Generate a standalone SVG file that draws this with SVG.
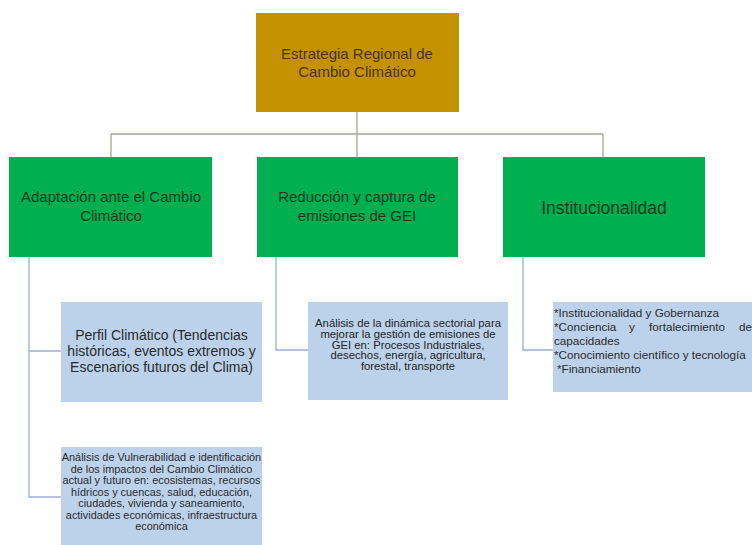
<svg xmlns="http://www.w3.org/2000/svg" width="752" height="545" viewBox="0 0 752 545">
<style>
text{font-family:"Liberation Sans",Arial,sans-serif}
.top{fill:#C49200}
.grn{fill:#00B050}
.blu{fill:#BCD2EA}
.tt{fill:#4a3300;font-size:15px;text-anchor:middle}
.gt{fill:#0d3b1c;font-size:15px;text-anchor:middle}
.bt{fill:#2a2a2a;text-anchor:middle}
.lt{fill:#2a2a2a;font-size:11.7px}
.c1{stroke:#A3A893;stroke-width:1.3;fill:none}
.c2{stroke:#9AAFCB;stroke-width:1.3;fill:none}
</style>
<rect width="752" height="545" fill="#ffffff"/>
<g id="connectors">
<path class="c1" d="M357 112V157M111 134H603M111 134V157M603 134V157"/>
<path class="c2" d="M29 257V497H61M29 351H61"/>
<path class="c2" d="M276 257V350H308"/>
<path class="c2" d="M523 257V350H553"/>
</g>
<g id="root">
<rect class="top" x="256" y="13" width="203" height="99"/>
<text class="tt" x="357" y="59">Estrategia Regional de</text>
<text class="tt" x="357" y="77">Cambio Climático</text>
</g>
<g id="adaptacion">
<rect class="grn" x="9" y="157" width="203" height="100"/>
<text class="gt" x="111" y="202">Adaptación ante el Cambio</text>
<text class="gt" x="111" y="221">Climático</text>
</g>
<g id="reduccion">
<rect class="grn" x="257" y="157" width="201" height="100"/>
<text class="gt" x="357" y="202">Reducción y captura de</text>
<text class="gt" x="357" y="221">emisiones de GEI</text>
</g>
<g id="institucionalidad">
<rect class="grn" x="503" y="157" width="202" height="100"/>
<text class="gt" x="604" y="214" style="font-size:17.5px">Institucionalidad</text>
</g>
<g id="perfil">
<rect class="blu" x="61" y="302" width="201" height="100"/>
<text class="bt" x="161.5" y="340" style="font-size:14px">Perfil Climático (Tendencias</text>
<text class="bt" x="161.5" y="356" style="font-size:14px">históricas, eventos extremos y</text>
<text class="bt" x="161.5" y="372" style="font-size:14px">Escenarios futuros del Clima)</text>
</g>
<g id="vulnerabilidad">
<rect class="blu" x="61" y="447" width="201" height="98"/>
<g class="bt" style="font-size:10.9px">
<text x="161.5" y="461">Análisis de Vulnerabilidad e identificación</text>
<text x="161.5" y="472.5">de los impactos del Cambio Climático</text>
<text x="161.5" y="484">actual y futuro en: ecosistemas, recursos</text>
<text x="161.5" y="495.5">hídricos y cuencas, salud, educación,</text>
<text x="161.5" y="507">ciudades, vivienda y saneamiento,</text>
<text x="161.5" y="518.5">actividades económicas, infraestructura</text>
<text x="161.5" y="530">económica</text>
</g>
</g>
<g id="analisis-sectorial">
<rect class="blu" x="308" y="302" width="200" height="98"/>
<g class="bt" style="font-size:11.3px;fill:#1e1e1e">
<text x="408" y="327">Análisis de la dinámica sectorial para</text>
<text x="408" y="337.8">mejorar la gestión de emisiones de</text>
<text x="408" y="348.6">GEI en: Procesos Industriales,</text>
<text x="408" y="359.4">desechos, energía, agricultura,</text>
<text x="408" y="370.2">forestal, transporte</text>
</g>
</g>
<g id="inst-detalle">
<rect class="blu" x="553" y="302" width="199" height="90"/>
<text class="lt" x="554" y="317">*Institucionalidad y Gobernanza</text>
<text class="lt" x="554" y="331">*Conciencia</text>
<text class="lt" x="629" y="331">y</text>
<text class="lt" x="649" y="331">fortalecimiento</text>
<text class="lt" x="739" y="331">de</text>
<text class="lt" x="554" y="344.5">capacidades</text>
<text class="lt" x="554" y="358.5">*Conocimiento científico y tecnología</text>
<text class="lt" x="557" y="372.5">*Financiamiento</text>
</g>
</svg>
